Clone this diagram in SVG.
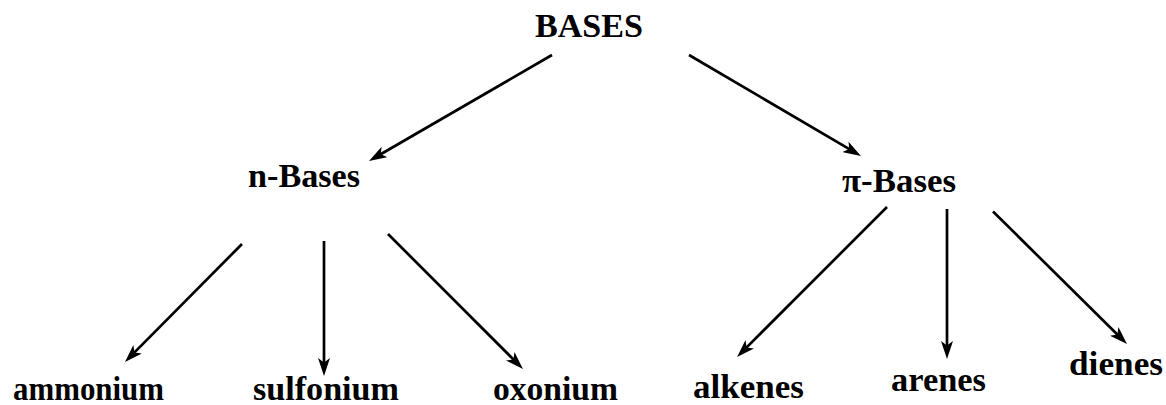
<svg xmlns="http://www.w3.org/2000/svg" width="1166" height="405" viewBox="0 0 1166 405">
  <style>
    .lbl { font-family: "Liberation Serif", "Times New Roman", serif; font-weight: bold; fill: #000; font-size: 34px; }
    .edge { stroke: #000; stroke-width: 2.7; fill: none; marker-end: url(#arrow); }
  </style>
  <defs>
    <marker id="arrow" viewBox="0 0 18 12" refX="9" refY="6" markerWidth="18" markerHeight="12" markerUnits="userSpaceOnUse" orient="auto">
      <path d="M0,0 L18,6 L0,12 L4.5,6 Z" fill="#000"/>
    </marker>
  </defs>
  <rect width="1166" height="405" fill="#fff"/>
  <g id="connectors">
    <line class="edge" x1="552" y1="55" x2="376.8" y2="156.5"/>
    <line class="edge" x1="689" y1="55" x2="853.2" y2="151.4"/>
    <line class="edge" x1="242" y1="244" x2="131.3" y2="355.6"/>
    <line class="edge" x1="324" y1="241" x2="324" y2="367"/>
    <line class="edge" x1="388" y1="234" x2="516.6" y2="362.6"/>
    <line class="edge" x1="887" y1="207" x2="743.4" y2="350.6"/>
    <line class="edge" x1="947" y1="209" x2="947" y2="350"/>
    <line class="edge" x1="993" y1="211.5" x2="1120.6" y2="337.7"/>
  </g>
  <g id="node-bases"><text class="lbl" x="535" y="37" textLength="108" lengthAdjust="spacingAndGlyphs">BASES</text></g>
  <g id="node-n-bases"><text class="lbl" x="248" y="187" font-size="32" textLength="112" lengthAdjust="spacingAndGlyphs">n-Bases</text></g>
  <g id="node-pi-bases"><text class="lbl" x="842" y="192" textLength="114" lengthAdjust="spacingAndGlyphs">π-Bases</text></g>
  <g id="node-ammonium"><text class="lbl" x="13" y="400" textLength="151" lengthAdjust="spacingAndGlyphs">ammonium</text></g>
  <g id="node-sulfonium"><text class="lbl" x="253" y="400" textLength="146" lengthAdjust="spacingAndGlyphs">sulfonium</text></g>
  <g id="node-oxonium"><text class="lbl" x="493" y="400" textLength="125" lengthAdjust="spacingAndGlyphs">oxonium</text></g>
  <g id="node-alkenes"><text class="lbl" x="693" y="398" textLength="111" lengthAdjust="spacingAndGlyphs">alkenes</text></g>
  <g id="node-arenes"><text class="lbl" x="891" y="391" textLength="95" lengthAdjust="spacingAndGlyphs">arenes</text></g>
  <g id="node-dienes"><text class="lbl" x="1069" y="375" textLength="94" lengthAdjust="spacingAndGlyphs">dienes</text></g>
</svg>
